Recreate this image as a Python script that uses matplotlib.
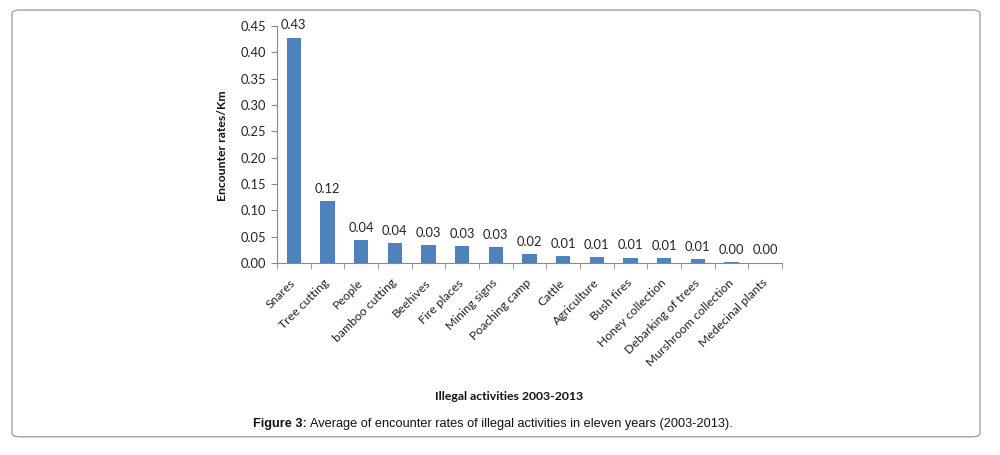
import matplotlib
matplotlib.use("Agg")
import matplotlib.pyplot as plt
from matplotlib.patches import FancyBboxPatch
import numpy as np

categories = ["Snares", "Tree cutting", "People", "bamboo cutting", "Beehives",
              "Fire places", "Mining signs", "Poaching camp", "Cattle", "Agriculture",
              "Bush fires", "Honey collection", "Debarking of trees",
              "Murshroom collection", "Medecinal plants"]
values = [0.428, 0.118, 0.043, 0.037, 0.034, 0.032, 0.030, 0.017, 0.0126,
          0.011, 0.0103, 0.009, 0.0075, 0.002, 0.0004]
yticks = [0.00, 0.05, 0.10, 0.15, 0.20, 0.25, 0.30, 0.35, 0.40, 0.45]

plt.rcParams['font.family'] = ['Lato', 'DejaVu Sans']

fig = plt.figure(figsize=(10, 4.55), dpi=100)

# rounded border
border = FancyBboxPatch((0.012, 0.04), 0.968, 0.938,
                        boxstyle="round,pad=0,rounding_size=0.008",
                        transform=fig.transFigure, fill=False,
                        edgecolor="#9ea3a8", linewidth=1.0)
fig.patches.append(border)

ax = fig.add_axes([0.277, 0.422, 0.505, 0.521])
x = np.arange(len(categories))
bars = ax.bar(x, values, width=0.42, color="#4f81bd", zorder=2)

for xi, v in zip(x, values):
    ax.text(xi, v + 0.012, f"{v:.2f}", ha="center", va="bottom",
            fontsize=9.3, color="#222222")

ax.set_xlim(-0.5, len(categories) - 0.5)
ax.set_ylim(0, 0.45)
ax.set_yticks(yticks)
ax.set_yticklabels([f"{t:.2f}" for t in yticks], fontsize=9.3, color="#222222")

ax.set_xticks(x)
ax.set_xticklabels(categories, rotation=45, ha="right", va="center",
                   rotation_mode="anchor", fontsize=8.8, color="#222222")
ax.tick_params(axis="x", length=0, pad=13)
ax.set_xticks(np.arange(-0.5, len(categories), 1.0), minor=True)
ax.tick_params(axis="x", which="minor", length=4, color="#888888", direction="out")
ax.tick_params(axis="y", length=4, color="#888888", direction="out")

for s in ["top", "right"]:
    ax.spines[s].set_visible(False)
for s in ["left", "bottom"]:
    ax.spines[s].set_color("#888888")
    ax.spines[s].set_linewidth(0.8)

fig.text(0.222, 0.68, "Encounter rates/Km", rotation=90, ha="center", va="center",
         fontsize=8.8, fontweight="bold", color="#111111")
fig.text(0.509, 1 - 396 / 455, "Illegal activities 2003-2013", ha="center",
         va="center", fontsize=8.8, fontweight="bold", color="#111111")

cap_y = 1 - 424 / 455
fig.text(0.253, cap_y, "Figure 3:", ha="left", va="center", fontsize=9.2,
         fontweight="bold", family="Liberation Sans", color="#111111")
fig.text(0.3105, cap_y, "Average of encounter rates of illegal activities in eleven years (2003-2013).",
         ha="left", va="center", fontsize=9.2, family="Liberation Sans", color="#111111")

fig.savefig("out.png", dpi=100)
